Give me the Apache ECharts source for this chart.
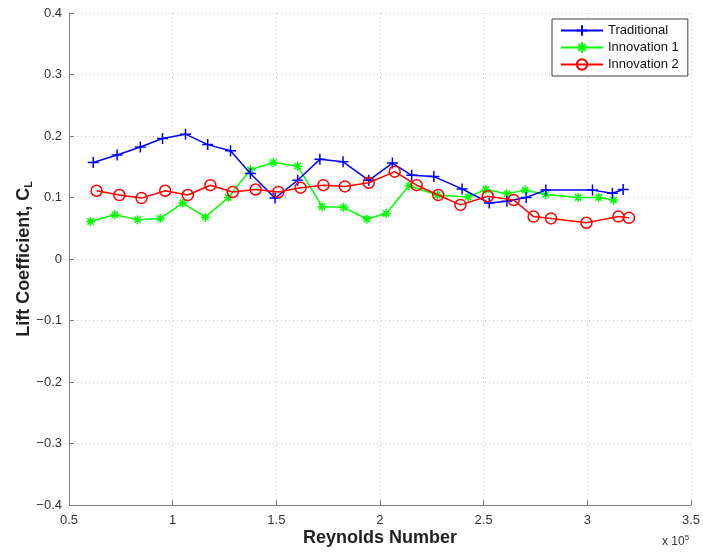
<!DOCTYPE html>
<html>
<head>
<meta charset="utf-8">
<script src="https://cdn.jsdelivr.net/npm/echarts@6/dist/echarts.min.js"></script>
<style>
  html, body { margin: 0; padding: 0; background: #fff; }
  #chart { width: 703px; height: 552px; }
</style>
</head>
<body>
<div id="chart"></div>
<script>
// Reynolds number (x 10^5) and lift coefficient for each wing design
const reTraditional = [0.617, 0.732, 0.844, 0.951, 1.062, 1.169, 1.279, 1.375, 1.494, 1.603, 1.71, 1.822,
                       1.946, 2.06, 2.153, 2.26, 2.396, 2.527, 2.612, 2.705, 2.80, 3.025, 3.121, 3.173];
const clTraditional = [0.157, 0.169, 0.182, 0.196, 0.203, 0.186, 0.176, 0.139, 0.099, 0.128, 0.162, 0.158,
                       0.128, 0.156, 0.136, 0.134, 0.114, 0.091, 0.094, 0.100, 0.112, 0.112, 0.107, 0.113];

const reInnovation1 = [0.604, 0.721, 0.831, 0.94, 1.049, 1.158, 1.268, 1.375, 1.486, 1.603, 1.721, 1.824,
                       1.937, 2.03, 2.14, 2.276, 2.425, 2.511, 2.612, 2.70, 2.80, 2.956, 3.055, 3.127];
const clInnovation1 = [0.061, 0.072, 0.064, 0.066, 0.091, 0.068, 0.100, 0.145, 0.157, 0.151, 0.085, 0.084,
                       0.065, 0.074, 0.119, 0.104, 0.101, 0.113, 0.106, 0.112, 0.105, 0.100, 0.100, 0.096];

const reInnovation2 = [0.633, 0.743, 0.85, 0.964, 1.073, 1.182, 1.29, 1.40, 1.51, 1.617, 1.727, 1.831,
                       1.946, 2.071, 2.177, 2.281, 2.388, 2.52, 2.645, 2.741, 2.825, 2.996, 3.15, 3.201];
const clInnovation2 = [0.111, 0.104, 0.099, 0.111, 0.104, 0.120, 0.109, 0.113, 0.109, 0.116, 0.120, 0.118,
                       0.124, 0.142, 0.120, 0.104, 0.088, 0.102, 0.096, 0.069, 0.066, 0.059, 0.069, 0.067];

const seriesNames = ['Traditional', 'Innovation 1', 'Innovation 2'];
const xTicks = { min: 0.5, max: 3.5, step: 0.5 };
const yTicks = { min: -0.4, max: 0.4, step: 0.1 };

const pair = (xs, ys) => xs.map((x, i) => [x, ys[i]]);

const plusPath = 'path://M5,0 L5,10 M0,5 L10,5';
const starPath = 'path://M5,0 L5,10 M0,5 L10,5 M1.5,1.5 L8.5,8.5 M8.5,1.5 L1.5,8.5';

const font = '"Liberation Sans", Arial, sans-serif';
const gridLine = { show: true, lineStyle: { color: '#c8c8c8', type: [1, 3], width: 1 } };
const axisGray = '#808080';

const chart = echarts.init(document.getElementById('chart'), null, { renderer: 'canvas' });
chart.setOption({
  animation: false,
  backgroundColor: '#fff',
  textStyle: { fontFamily: font },
  grid: { left: 69, right: 8.5, top: 13, bottom: 47, containLabel: false },
  legend: {
    orient: 'vertical',
    left: 552,
    top: 19,
    backgroundColor: '#fff',
    borderColor: '#404040',
    borderWidth: 1,
    borderRadius: 0,
    padding: [5, 9, 5, 8],
    itemGap: 4,
    itemWidth: 42,
    itemHeight: 13,
    textStyle: { fontFamily: font, fontSize: 13, color: '#111', padding: [0, 0, 0, 0] },
    data: seriesNames
  },
  xAxis: {
    type: 'value',
    min: xTicks.min, max: xTicks.max, interval: xTicks.step,
    name: 'Reynolds Number',
    nameLocation: 'middle',
    nameGap: 24,
    nameMoveOverlap: false,
    nameTextStyle: { fontFamily: font, fontSize: 18, fontWeight: 'bold', color: '#222' },
    axisLine: { show: true, onZero: false, lineStyle: { color: axisGray, width: 1 } },
    axisTick: { show: true, inside: true, length: 5, lineStyle: { color: axisGray } },
    axisLabel: { fontSize: 13, color: '#333', margin: 9, fontFamily: font },
    splitLine: gridLine
  },
  yAxis: {
    type: 'value',
    min: yTicks.min, max: yTicks.max, interval: yTicks.step,
    name: 'Lift Coefficient, C{sub|L}',
    nameLocation: 'middle',
    nameGap: 35,
    nameMoveOverlap: false,
    nameTextStyle: {
      fontFamily: font, fontSize: 18, fontWeight: 'bold', color: '#222',
      rich: { sub: { fontFamily: font, fontSize: 11, fontWeight: 'bold', color: '#222', verticalAlign: 'bottom', padding: [8, 0, 0, 0] } }
    },
    axisLine: { show: true, onZero: false, lineStyle: { color: axisGray, width: 1 } },
    axisTick: { show: true, inside: true, length: 5, lineStyle: { color: axisGray } },
    axisLabel: {
      fontSize: 13, color: '#333', margin: 7, fontFamily: font,
      formatter: v => {
        const r = Math.round(v * 10) / 10;
        if (r === 0) return '0';
        return (r < 0 ? '\u2212' : '') + Math.abs(r).toFixed(1);
      }
    },
    splitLine: gridLine
  },
  graphic: [{
    type: 'text',
    left: 662,
    top: 534,
    style: {
      text: 'x 10{sup|5}',
      font: '12px ' + font,
      fill: '#333',
      rich: { sup: { fontSize: 8, fill: '#333', verticalAlign: 'top', padding: [0, 0, 7, 0] } }
    }
  }],
  series: [
    {
      name: seriesNames[0],
      type: 'line',
      data: pair(reTraditional, clTraditional),
      symbol: plusPath,
      symbolSize: 11,
      showAllSymbol: true,
      lineStyle: { color: '#0000ff', width: 1.5 },
      itemStyle: { color: '#0000ff', borderColor: '#0000ff', borderWidth: 1.5 },
      z: 3
    },
    {
      name: seriesNames[1],
      type: 'line',
      data: pair(reInnovation1, clInnovation1),
      symbol: starPath,
      symbolSize: 9,
      showAllSymbol: true,
      lineStyle: { color: '#00ff00', width: 1.5 },
      itemStyle: { color: '#00ff00', borderColor: '#00ff00', borderWidth: 1.5 },
      z: 2
    },
    {
      name: seriesNames[2],
      type: 'line',
      data: pair(reInnovation2, clInnovation2),
      symbol: 'circle',
      symbolSize: 11,
      showAllSymbol: true,
      lineStyle: { color: '#ff0000', width: 1.5 },
      itemStyle: { color: 'rgba(255,255,255,0)', borderColor: '#ff0000', borderWidth: 1.5 },
      z: 4
    }
  ]
});
</script>
</body>
</html>
